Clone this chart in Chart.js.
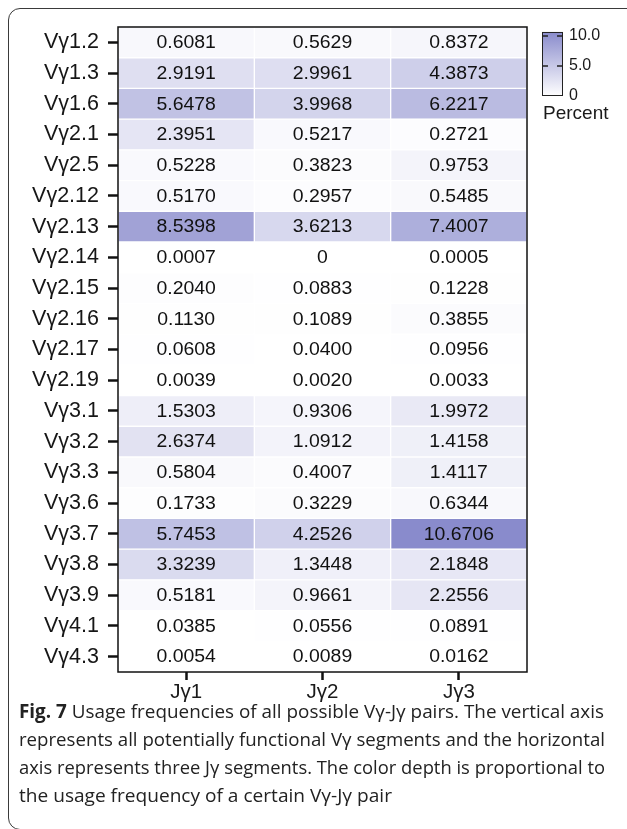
<!DOCTYPE html>
<html>
<head>
<meta charset="utf-8">
<script src="https://cdn.jsdelivr.net/npm/chart.js@4/dist/chart.umd.min.js"></script>
<style>
  html, body { margin: 0; padding: 0; background: #fff; width: 627px; height: 829px; overflow: hidden; }
  #frame { position: absolute; left: 8px; top: 8px; width: 640px; height: 822px; border: 1.5px solid #3a3a3a; border-radius: 12px; box-sizing: border-box; }
  #heat { position: absolute; left: 0; top: 0; }
  .cap { position: absolute; left: 19px; font-family: "Open Sans", "Noto Sans", sans-serif; font-size: 19px; color: #222; white-space: nowrap; transform-origin: 0 50%; line-height: 28px; }
  .cap b { font-weight: 700; }
</style>
</head>
<body>
<div id="frame"></div>
<canvas id="heat" width="627" height="712"></canvas>
<div class="cap" data-w="585" style="top:697px"><b>Fig. 7</b> Usage frequencies of all possible Vγ-Jγ pairs. The vertical axis</div>
<div class="cap" data-w="586" style="top:725px">represents all potentially functional Vγ segments and the horizontal</div>
<div class="cap" data-w="586" style="top:753px">axis represents three Jγ segments. The color depth is proportional to</div>
<div class="cap" data-w="373" style="top:781px">the usage frequency of a certain Vγ-Jγ pair</div>
<script>
// V-gamma segments (rows, top to bottom) and J-gamma segments (columns)
const vSegments = ["Vγ1.2","Vγ1.3","Vγ1.6","Vγ2.1","Vγ2.5","Vγ2.12","Vγ2.13","Vγ2.14","Vγ2.15","Vγ2.16","Vγ2.17","Vγ2.19","Vγ3.1","Vγ3.2","Vγ3.3","Vγ3.6","Vγ3.7","Vγ3.8","Vγ3.9","Vγ4.1","Vγ4.3"];
const jSegments = ["Jγ1","Jγ2","Jγ3"];

// usage frequency (percent) of each V-J pair, one array per J segment
const jg1 = [0.6081,2.9191,5.6478,2.3951,0.5228,0.5170,8.5398,0.0007,0.2040,0.1130,0.0608,0.0039,1.5303,2.6374,0.5804,0.1733,5.7453,3.3239,0.5181,0.0385,0.0054];
const jg2 = [0.5629,2.9961,3.9968,0.5217,0.3823,0.2957,3.6213,0,0.0883,0.1089,0.0400,0.0020,0.9306,1.0912,0.4007,0.3229,4.2526,1.3448,0.9661,0.0556,0.0089];
const jg3 = [0.8372,4.3873,6.2217,0.2721,0.9753,0.5485,7.4007,0.0005,0.1228,0.3855,0.0956,0.0033,1.9972,1.4158,1.4117,0.6344,10.6706,2.1848,2.2556,0.0891,0.0162];

// colour bar ticks
const legendTicks = [0, 5, 10];
const legendTickLabels = ["0", "5.0", "10.0"];
const legendTitle = "Percent";

const columns = [jg1, jg2, jg3];
const vMax = Math.max(...columns.flat());
const LOW = [255, 255, 255], HIGH = [137, 139, 204];

function fillFor(v) {
  const t = Math.max(0, Math.min(1, v / vMax));
  const c = LOW.map((lo, i) => Math.round(lo + (HIGH[i] - lo) * t));
  return `rgb(${c[0]},${c[1]},${c[2]})`;
}
function fmt(v) { return v === 0 ? "0" : v.toFixed(4); }

const FONT = "'Liberation Sans', Arial, sans-serif";

// frame around the plotting area
const boxPlugin = {
  id: 'box',
  afterDatasetsDraw(chart) {
    const { ctx, chartArea: a } = chart;
    ctx.save();
    ctx.strokeStyle = '#111';
    ctx.lineWidth = 1.5;
    ctx.strokeRect(a.left, a.top, a.right - a.left, a.bottom - a.top);
    ctx.restore();
  }
};

// percentage written in every cell (slightly widened glyphs)
const valueLabels = {
  id: 'valueLabels',
  afterDatasetsDraw(chart) {
    const { ctx } = chart;
    ctx.save();
    ctx.font = `17.5px ${FONT}`;
    ctx.fillStyle = '#111';
    ctx.textAlign = 'center';
    ctx.textBaseline = 'middle';
    chart.data.datasets.forEach((ds, di) => {
      chart.getDatasetMeta(di).data.forEach((bar, i) => {
        const p = bar.getProps(['x', 'y', 'base'], true);
        ctx.save();
        ctx.translate((p.x + p.base) / 2, p.y + 1);
        ctx.scale(1.11, 1);
        ctx.fillText(fmt(ds.values[i]), 0, 0);
        ctx.restore();
      });
    });
    ctx.restore();
  }
};

// continuous colour legend on the right
const colorBar = {
  id: 'colorBar',
  afterDraw(chart) {
    const { ctx } = chart;
    const x = 542, w = 21, yZero = 96, pxPerUnit = 6;
    const yTop = yZero - vMax * pxPerUnit;
    ctx.save();
    const g = ctx.createLinearGradient(0, yZero, 0, yTop);
    g.addColorStop(0, fillFor(0));
    g.addColorStop(1, fillFor(vMax));
    ctx.fillStyle = g;
    ctx.fillRect(x, yTop, w, yZero - yTop);
    ctx.strokeStyle = '#222';
    ctx.lineWidth = 1;
    ctx.strokeRect(x + 0.5, yTop + 0.5, w - 1, yZero - yTop - 1);
    ctx.font = `16px ${FONT}`;
    ctx.fillStyle = '#1a1a1a';
    ctx.textBaseline = 'middle';
    ctx.textAlign = 'left';
    legendTicks.forEach((t, i) => {
      const y = yZero - t * pxPerUnit;
      if (t > 0) {
        ctx.lineWidth = 1.5;
        ctx.beginPath();
        ctx.moveTo(x, y); ctx.lineTo(x + 6, y);
        ctx.moveTo(x + w - 6, y); ctx.lineTo(x + w, y);
        ctx.stroke();
      }
      ctx.fillText(legendTickLabels[i], x + 27, y);
    });
    ctx.font = `19px ${FONT}`;
    ctx.fillText(legendTitle, x + 1, yZero + 18);
    ctx.restore();
  }
};

const datasets = jSegments.map((j, ci) => ({
  label: j,
  values: columns[ci],
  data: columns[ci].map(() => [ci, ci + 1]),
  backgroundColor: columns[ci].map(fillFor),
  borderColor: '#ffffff',
  borderWidth: 1,
  borderSkipped: false,
  grouped: false,
  barPercentage: 1,
  categoryPercentage: 1
}));

new Chart(document.getElementById('heat'), {
  type: 'bar',
  data: { labels: vSegments, datasets },
  options: {
    indexAxis: 'y',
    responsive: false,
    animation: false,
    events: [],
    layout: { padding: { left: 0, top: 27, right: 100, bottom: 0 } },
    plugins: { legend: { display: false }, tooltip: { enabled: false } },
    scales: {
      x: {
        type: 'linear', position: 'bottom', min: 0, max: jSegments.length,
        afterBuildTicks: s => { s.ticks = jSegments.map((_, i) => ({ value: i + 0.5 })); },
        afterFit: s => { s.height = 40; },
        ticks: {
          callback: v => jSegments[Math.floor(v)],
          font: { family: FONT, size: 20.5 }, color: '#1a1a1a', padding: 0,
          autoSkip: false, maxRotation: 0
        },
        grid: { drawOnChartArea: false, tickLength: 8, tickWidth: 2.5, color: '#111', tickColor: '#111' },
        border: { display: false }
      },
      y: {
        type: 'category', position: 'left',
        afterFit: s => { s.width = 118; },
        ticks: { font: { family: FONT, size: 21.5 }, color: '#161616', padding: 9, autoSkip: false },
        grid: { offset: false, drawOnChartArea: false, tickLength: 10, tickWidth: 2.5, color: '#111', tickColor: '#111' },
        border: { display: false }
      }
    }
  },
  plugins: [boxPlugin, valueLabels, colorBar]
});

// stretch each caption line to its column width
document.querySelectorAll('.cap').forEach(el => {
  const w = el.getBoundingClientRect().width;
  el.style.transform = `scaleX(${(+el.dataset.w / w).toFixed(4)})`;
});
</script>
</body>
</html>
